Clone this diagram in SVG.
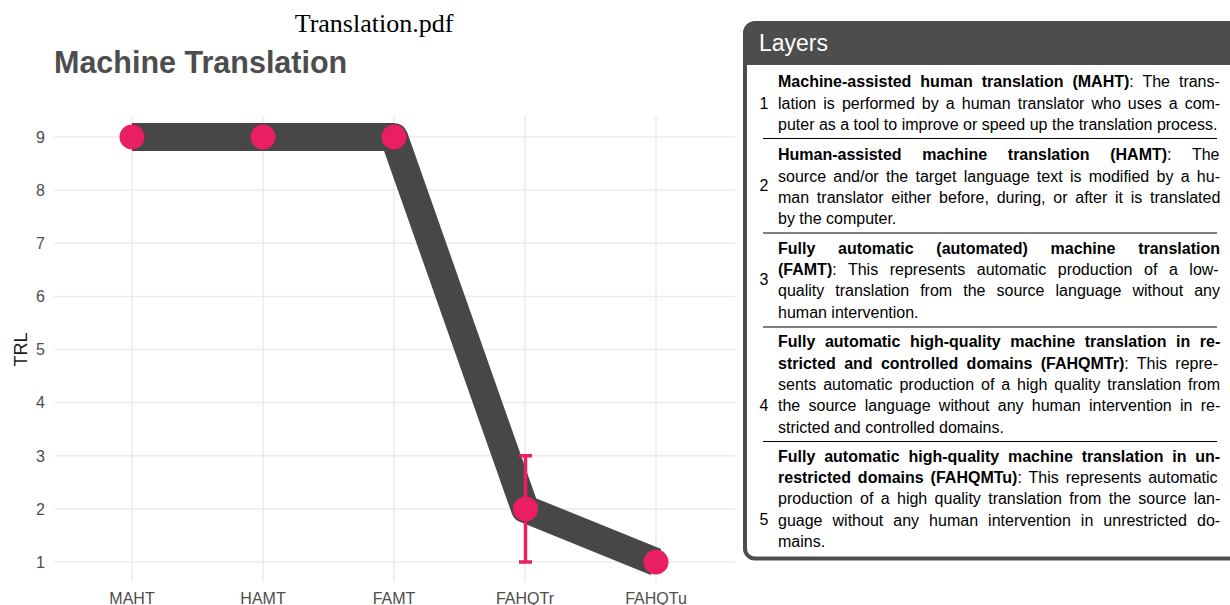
<svg xmlns="http://www.w3.org/2000/svg" width="1230" height="605" viewBox="0 0 1230 605">
<style>
.grid{stroke:#ebebeb;stroke-width:1.5;fill:none}
.tick{font-family:"Liberation Sans",Arial,sans-serif;font-size:16px;fill:#4d4d4d}
.pt{fill:#e91e63}
.tx{font-family:"Liberation Sans",Arial,sans-serif;font-size:16px;fill:#000}
.b{font-weight:bold}
.num{font-family:"Liberation Sans",Arial,sans-serif;font-size:16px;fill:#000;text-anchor:middle}
.sep{stroke:#000;stroke-width:1}
</style>
<rect width="1230" height="605" fill="#fff"/>
<text x="374" y="32" text-anchor="middle" font-family="'Liberation Serif','Times New Roman',serif" font-size="26" fill="#000">Translation.pdf</text>
<text x="54" y="73" font-family="'Liberation Sans',Arial,sans-serif" font-size="30.5" font-weight="bold" fill="#4d4d4d">Machine Translation</text>
<g id="grid">
<line class="grid" x1="54" y1="137" x2="735" y2="137"/>
<line class="grid" x1="54" y1="190.1" x2="735" y2="190.1"/>
<line class="grid" x1="54" y1="243.25" x2="735" y2="243.25"/>
<line class="grid" x1="54" y1="296.4" x2="735" y2="296.4"/>
<line class="grid" x1="54" y1="349.5" x2="735" y2="349.5"/>
<line class="grid" x1="54" y1="402.6" x2="735" y2="402.6"/>
<line class="grid" x1="54" y1="455.75" x2="735" y2="455.75"/>
<line class="grid" x1="54" y1="508.9" x2="735" y2="508.9"/>
<line class="grid" x1="54" y1="562" x2="735" y2="562"/>
<line class="grid" x1="132" y1="116" x2="132" y2="582"/>
<line class="grid" x1="263" y1="116" x2="263" y2="582"/>
<line class="grid" x1="394" y1="116" x2="394" y2="582"/>
<line class="grid" x1="525" y1="116" x2="525" y2="582"/>
<line class="grid" x1="656" y1="116" x2="656" y2="582"/>
</g>
<g id="y-axis" class="tick" text-anchor="end">
<text x="45" y="142.5">9</text>
<text x="45" y="195.5">8</text>
<text x="45" y="248.5">7</text>
<text x="45" y="302">6</text>
<text x="45" y="355">5</text>
<text x="45" y="408">4</text>
<text x="45" y="461.5">3</text>
<text x="45" y="514.5">2</text>
<text x="45" y="567.5">1</text>
</g>
<text transform="translate(27,349.5) rotate(-90)" text-anchor="middle" font-family="'Liberation Sans',Arial,sans-serif" font-size="18" fill="#1a1a1a">TRL</text>
<g id="x-axis" class="tick" text-anchor="middle">
<text x="132" y="603.5">MAHT</text>
<text x="263" y="603.5">HAMT</text>
<text x="394" y="603.5">FAMT</text>
<text x="525" y="603.5">FAHQTr</text>
<text x="656" y="603.5">FAHQTu</text>
</g>
<g id="connectors">
<polyline points="132,137 263,137 394,137 525,508.9 656,562" fill="none" stroke="#474747" stroke-width="28" stroke-linejoin="round" stroke-linecap="butt"/>
<g stroke="#e91e63" stroke-width="3.5" fill="none">
<line x1="525.5" y1="455.75" x2="525.5" y2="562"/>
<line x1="519" y1="455.75" x2="532" y2="455.75"/>
<line x1="519" y1="562" x2="532" y2="562"/>
</g>
</g>
<g id="node-MAHT"><circle class="pt" cx="132" cy="137" r="12.5"/></g>
<g id="node-HAMT"><circle class="pt" cx="263" cy="137" r="12.5"/></g>
<g id="node-FAMT"><circle class="pt" cx="394" cy="137" r="12.5"/></g>
<g id="node-FAHQTr"><circle class="pt" cx="525.5" cy="508.9" r="12.5"/></g>
<g id="node-FAHQTu"><circle class="pt" cx="656" cy="562" r="12.5"/></g>
<g id="layers-panel">
<rect x="745" y="23" width="520" height="535.5" rx="10" fill="#fff"/>
<path d="M745,65 V33 A10,10 0 0 1 755,23 H1265 V65 Z" fill="#4d4d4d"/>
<rect x="745" y="23" width="520" height="535.5" rx="10" fill="none" stroke="#4d4d4d" stroke-width="4"/>
<text x="759" y="51" font-family="'Liberation Sans',Arial,sans-serif" font-size="23" fill="#fff">Layers</text>
<line class="sep" x1="763" y1="138.5" x2="1217" y2="138.5"/>
<line class="sep" x1="763" y1="233" x2="1217" y2="233"/>
<line class="sep" x1="763" y1="327" x2="1217" y2="327"/>
<line class="sep" x1="763" y1="441.5" x2="1217" y2="441.5"/>
</g>
<g id="row-1">
<text class="num" x="764" y="109">1</text>
<text class="tx" x="778" y="87" word-spacing="4.5"><tspan class="b">Machine-assisted human translation (MAHT)</tspan>: The trans-</text>
<text class="tx" x="778" y="108.5" word-spacing="2.6">lation is performed by a human translator who uses a com-</text>
<text class="tx" x="778" y="130">puter as a tool to improve or speed up the translation process.</text>
</g>
<g id="row-2">
<text class="num" x="764" y="191">2</text>
<text class="tx" x="778" y="160" word-spacing="16.2"><tspan class="b">Human-assisted machine translation (HAMT)</tspan>: The</text>
<text class="tx" x="778" y="181.5" word-spacing="2.84">source and/or the target language text is modified by a hu-</text>
<text class="tx" x="778" y="202.5" word-spacing="3.3">man translator either before, during, or after it is translated</text>
<text class="tx" x="778" y="224">by the computer.</text>
</g>
<g id="row-3">
<text class="num" x="764" y="285">3</text>
<text class="tx b" x="778" y="253.5" word-spacing="18.25">Fully automatic (automated) machine translation</text>
<text class="tx" x="778" y="275" word-spacing="7.1"><tspan class="b">(FAMT)</tspan>: This represents automatic production of a low-</text>
<text class="tx" x="778" y="296" word-spacing="6.6">quality translation from the source language without any</text>
<text class="tx" x="778" y="317.5">human intervention.</text>
</g>
<g id="row-4">
<text class="num" x="764" y="411">4</text>
<text class="tx b" x="778" y="347" word-spacing="5.1">Fully automatic high-quality machine translation in re-</text>
<text class="tx" x="778" y="368.5" word-spacing="3.9"><tspan class="b">stricted and controlled domains (FAHQMTr)</tspan>: This repre-</text>
<text class="tx" x="778" y="390" word-spacing="2.45">sents automatic production of a high quality translation from</text>
<text class="tx" x="778" y="411" word-spacing="3.8">the source language without any human intervention in re-</text>
<text class="tx" x="778" y="432.5">stricted and controlled domains.</text>
</g>
<g id="row-5">
<text class="num" x="764" y="525">5</text>
<text class="tx b" x="778" y="461.5" word-spacing="4.35">Fully automatic high-quality machine translation in un-</text>
<text class="tx" x="778" y="483" word-spacing="2.5"><tspan class="b">restricted domains (FAHQMTu)</tspan>: This represents automatic</text>
<text class="tx" x="778" y="504" word-spacing="2.9">production of a high quality translation from the source lan-</text>
<text class="tx" x="778" y="525.5" word-spacing="5.6">guage without any human intervention in unrestricted do-</text>
<text class="tx" x="778" y="547">mains.</text>
</g>
</svg>
